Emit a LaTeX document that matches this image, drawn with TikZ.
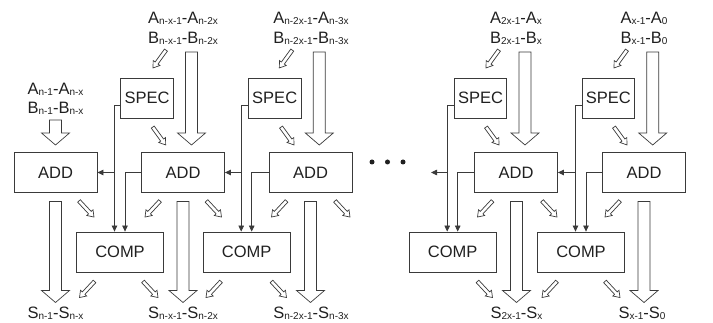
\documentclass[tikz,border=0pt]{standalone}
\usepackage{fontspec}
\setmainfont{Liberation Sans}
\usetikzlibrary{calc,arrows.meta}
\definecolor{ln}{HTML}{3A3A3A}
\definecolor{txt}{HTML}{202020}
\newcommand\sbs[1]{\raisebox{-1pt}{\fontsize{10}{10}\selectfont #1}}
\newcommand\bigarr[3]{\path[hollow] (#1-6,#2) -- (#1+6,#2) -- (#1+6,#3-12) -- (#1+14,#3-12) -- (#1,#3) -- (#1-14,#3-12) -- (#1-6,#3-12) -- cycle;}
\begin{document}
\begin{tikzpicture}[x=1pt,y=-1pt,
  box/.style={draw=ln, line width=0.8pt, minimum height=40pt, inner sep=0pt, font=\fontsize{16.5}{20}\selectfont, text=txt},
  addbox/.style={box, minimum width=83pt},
  specbox/.style={box, minimum width=52.5pt},
  compbox/.style={box, minimum width=86.5pt},
  conn/.style={draw=ln, line width=0.8pt},
  connarr/.style={conn, -{Triangle[length=6pt,width=5.5pt]}},
  hollow/.style={draw=ln, line width=0.7pt, fill=white, line join=miter},
  lbl/.style={anchor=base, inner sep=0pt, font=\fontsize{16.5}{20}\selectfont, text=txt},
  dotnode/.style={circle, fill=txt, inner sep=0pt, minimum size=5pt},
  sarrow/.pic={\path[hollow] (-11,-1.8) -- (5,-1.8) -- (5,-4.2) -- (11,0) -- (5,4.2) -- (5,1.8) -- (-11,1.8) -- cycle;}
]
\useasboundingbox (0,0) rectangle (713,323);

% boxes
\node[addbox] (add1) at (55.5,172.5) {ADD};
\node[addbox] (add2) at (183,172.5) {ADD};
\node[addbox] (add3) at (310.5,172.5) {ADD};
\node[addbox] (add4) at (516,172.5) {ADD};
\node[addbox] (add5) at (644,172.5) {ADD};

\node[specbox] (spec2) at (147,98.3) {SPEC};
\node[specbox] (spec3) at (274.7,98.3) {SPEC};
\node[specbox] (spec4) at (480.5,98.3) {SPEC};
\node[specbox] (spec5) at (608.3,98.3) {SPEC};

\node[compbox] (comp2) at (120,252) {COMP};
\node[compbox] (comp3) at (246.7,252) {COMP};
\node[compbox] (comp4) at (452.7,252) {COMP};
\node[compbox] (comp5) at (581,252) {COMP};

% dots
\node[dotnode] (dot1) at (372,162) {};
\node[dotnode] (dot2) at (387.5,162) {};
\node[dotnode] (dot3) at (403,162) {};

% connectors
\foreach \k in {2,3,4,5}{
  \coordinate (v\k) at ($(comp\k.north)+(-5.5,0)$);
  \coordinate (w\k) at ($(comp\k.north)+(5,0)$);
  \draw[connarr] ($(spec\k.west)+(0,7.5)$) -| (v\k);
  \draw[connarr] (add\k.west) -| (w\k);
}
\draw[connarr] (v2 |- add1.east) -- (add1.east);
\draw[connarr] (v3 |- add2.east) -- (add2.east);
\coordinate (free4) at (431,172.5);
\draw[connarr] (v4 |- add4.west) -- (free4);
\draw[connarr] (v5 |- add4.east) -- (add4.east);

% big hollow arrows
\bigarr{55.5}{120}{145}
\bigarr{191.5}{52}{145}
\bigarr{319.3}{52}{145}
\bigarr{525}{52}{145}
\bigarr{652.7}{52}{145}
\bigarr{55.5}{201.5}{302.5}
\bigarr{183}{201.5}{302.5}
\bigarr{310.5}{201.5}{302.5}
\bigarr{516.5}{201.5}{302.5}
\bigarr{644}{201.5}{302.5}

% small hollow arrows: top inputs to SPEC
\pic[rotate=234] at (159.5,59) {sarrow};
\pic[rotate=234] at (285.8,59) {sarrow};
\pic[rotate=234] at (492.5,59) {sarrow};
\pic[rotate=234] at (620.5,59) {sarrow};
% SPEC to ADD
\pic[rotate=306] at (159.2,136) {sarrow};
\pic[rotate=306] at (287.5,136) {sarrow};
\pic[rotate=306] at (492.5,136) {sarrow};
\pic[rotate=306] at (620.5,136) {sarrow};
% ADD to COMP
\pic[rotate=313] at (86.5,209) {sarrow};
\pic[rotate=227] at (152.5,209) {sarrow};
\pic[rotate=313] at (214,209) {sarrow};
\pic[rotate=227] at (279,209) {sarrow};
\pic[rotate=313] at (342.5,209) {sarrow};
\pic[rotate=227] at (485,209) {sarrow};
\pic[rotate=313] at (549.5,209) {sarrow};
\pic[rotate=227] at (612.5,209) {sarrow};
% COMP to outputs
\pic[rotate=227] at (87,289.5) {sarrow};
\pic[rotate=313] at (150.5,289.5) {sarrow};
\pic[rotate=227] at (213.5,289.5) {sarrow};
\pic[rotate=313] at (279,289.5) {sarrow};
\pic[rotate=313] at (485,289.5) {sarrow};
\pic[rotate=227] at (549.5,289.5) {sarrow};
\pic[rotate=313] at (612.5,289.5) {sarrow};

% labels
\node[lbl] (ta1) at (55.5,95) {A\sbs{n-1}-A\sbs{n-x}};
\node[lbl] (tb1) at (55.5,114) {B\sbs{n-1}-B\sbs{n-x}};
\node[lbl] (ta2) at (183,23.3) {A\sbs{n-x-1}-A\sbs{n-2x}};
\node[lbl] (tb2) at (183,43.3) {B\sbs{n-x-1}-B\sbs{n-2x}};
\node[lbl] (ta3) at (311,23.3) {A\sbs{n-2x-1}-A\sbs{n-3x}};
\node[lbl] (tb3) at (311,43.3) {B\sbs{n-2x-1}-B\sbs{n-3x}};
\node[lbl] (ta4) at (516,23.3) {A\sbs{2x-1}-A\sbs{x}};
\node[lbl] (tb4) at (516,43.3) {B\sbs{2x-1}-B\sbs{x}};
\node[lbl] (ta5) at (644,23.3) {A\sbs{x-1}-A\sbs{0}};
\node[lbl] (tb5) at (644,43.3) {B\sbs{x-1}-B\sbs{0}};

\node[lbl] (s1) at (55.5,319) {S\sbs{n-1}-S\sbs{n-x}};
\node[lbl] (s2) at (183,319) {S\sbs{n-x-1}-S\sbs{n-2x}};
\node[lbl] (s3) at (311,319) {S\sbs{n-2x-1}-S\sbs{n-3x}};
\node[lbl] (s4) at (516.5,319) {S\sbs{2x-1}-S\sbs{x}};
\node[lbl] (s5) at (642,319) {S\sbs{x-1}-S\sbs{0}};
\end{tikzpicture}
\end{document}
